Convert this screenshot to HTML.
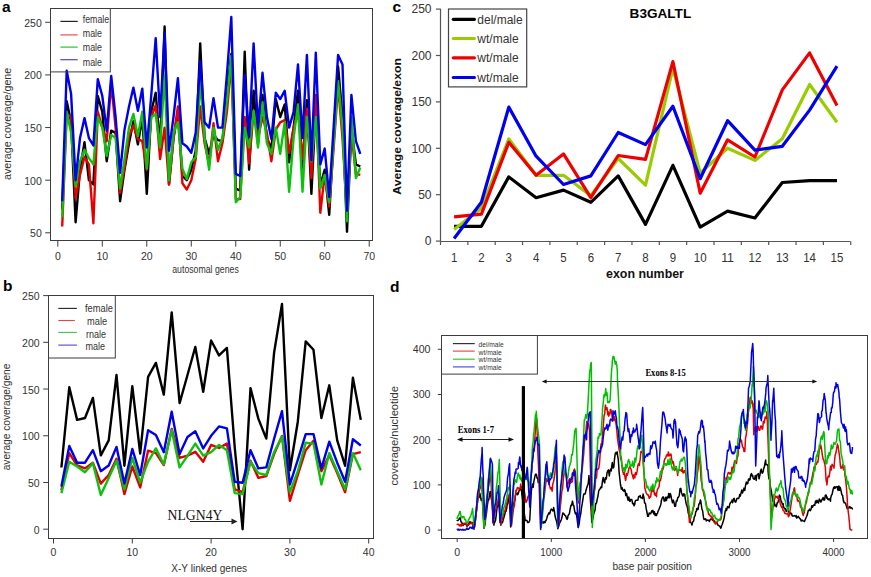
<!DOCTYPE html>
<html><head><meta charset="utf-8"><style>html,body{margin:0;padding:0;background:#fff;}svg{display:block;}</style></head>
<body>
<svg width="871" height="577" viewBox="0 0 871 577">
<rect width="871" height="577" fill="#fff"/>
<text x="1.9" y="11.7" font-family="'Liberation Sans', sans-serif" font-size="15.5" fill="#000" font-weight="bold">a</text>
<polyline points="62.2,209.6 66.7,101.2 71.1,122.3 75.6,222.3 80.0,169.7 84.5,142.3 88.9,180.2 93.4,184.4 97.8,96.0 102.3,111.8 106.7,161.2 111.2,130.7 115.6,132.8 120.1,201.2 124.5,169.7 129.0,143.3 133.4,121.2 137.9,144.4 142.3,117.0 146.8,193.9 151.2,111.8 155.7,92.8 160.1,147.5 164.6,26.5 169.0,184.4 173.5,138.1 177.9,111.8 182.4,176.0 186.8,180.2 191.3,169.7 195.7,150.7 200.2,43.4 204.6,138.1 209.1,153.9 213.5,134.9 218.0,140.2 222.4,141.2 226.9,96.0 231.3,53.9 235.8,188.6 240.2,190.7 244.7,51.8 249.1,169.7 253.6,90.7 258.0,143.3 262.5,94.9 266.9,138.1 271.4,148.6 275.8,99.1 280.2,117.0 284.7,104.4 289.1,162.3 293.6,127.6 298.0,90.7 302.5,169.7 306.9,100.2 311.4,193.9 315.8,106.5 320.3,185.4 324.7,169.7 329.2,214.9 333.6,138.1 338.1,66.5 342.5,117.0 347.0,231.7 351.4,127.6 355.9,164.4 360.3,166.5" fill="none" stroke="#000" stroke-width="2.4" stroke-linejoin="round"/>
<polyline points="62.2,226.5 66.7,113.9 71.1,117.0 75.6,198.1 80.0,174.9 84.5,157.0 88.9,164.4 93.4,223.3 97.8,111.8 102.3,127.6 106.7,141.2 111.2,83.3 115.6,127.6 120.1,192.8 124.5,167.5 129.0,136.0 133.4,125.4 137.9,139.1 142.3,141.2 146.8,169.7 151.2,117.0 155.7,105.4 160.1,159.1 164.6,127.6 169.0,184.4 173.5,138.1 177.9,106.5 182.4,183.3 186.8,189.6 191.3,180.2 195.7,159.1 200.2,106.5 204.6,143.3 209.1,164.4 213.5,123.3 218.0,161.2 222.4,143.3 226.9,111.8 231.3,62.3 235.8,199.1 240.2,199.1 244.7,117.0 249.1,163.3 253.6,111.8 258.0,138.1 262.5,117.0 266.9,132.8 271.4,161.2 275.8,129.7 280.2,122.3 284.7,120.2 289.1,152.8 293.6,127.6 298.0,111.8 302.5,159.1 306.9,108.6 311.4,178.1 315.8,94.9 320.3,212.8 324.7,174.9 329.2,206.5 333.6,148.6 338.1,85.5 342.5,138.1 347.0,210.7 351.4,132.8 355.9,173.9 360.3,174.9" fill="none" stroke="#e80000" stroke-width="2.4" stroke-linejoin="round"/>
<polyline points="62.2,217.0 66.7,111.8 71.1,132.8 75.6,186.5 80.0,161.2 84.5,149.7 88.9,158.1 93.4,164.4 97.8,117.0 102.3,127.6 106.7,156.0 111.2,134.9 115.6,138.1 120.1,188.6 124.5,159.1 129.0,127.6 133.4,113.9 137.9,136.0 142.3,111.8 146.8,168.6 151.2,117.0 155.7,113.9 160.1,147.5 164.6,74.9 169.0,180.2 173.5,132.8 177.9,122.3 182.4,168.6 186.8,179.1 191.3,162.3 195.7,157.0 200.2,80.2 204.6,138.1 209.1,169.7 213.5,127.6 218.0,149.7 222.4,138.1 226.9,101.2 231.3,56.0 235.8,202.3 240.2,197.0 244.7,127.6 249.1,147.5 253.6,110.7 258.0,147.5 262.5,102.3 266.9,143.3 271.4,153.9 275.8,127.6 280.2,153.9 284.7,122.3 289.1,191.8 293.6,138.1 298.0,104.4 302.5,191.8 306.9,117.0 311.4,161.2 315.8,117.0 320.3,188.6 324.7,174.9 329.2,202.3 333.6,143.3 338.1,81.2 342.5,127.6 347.0,221.2 351.4,117.0 355.9,178.1 360.3,167.5" fill="none" stroke="#10c010" stroke-width="2.4" stroke-linejoin="round"/>
<polyline points="62.2,201.2 66.7,70.7 71.1,93.9 75.6,180.2 80.0,138.1 84.5,118.1 88.9,138.1 93.4,145.4 97.8,79.1 102.3,96.0 106.7,130.7 111.2,76.0 115.6,117.0 120.1,172.8 124.5,129.7 129.0,106.5 133.4,87.6 137.9,110.7 142.3,88.6 146.8,147.5 151.2,96.0 155.7,38.1 160.1,117.0 164.6,32.8 169.0,150.7 173.5,117.0 177.9,78.1 182.4,143.3 186.8,146.5 191.3,152.8 195.7,132.8 200.2,61.2 204.6,122.3 209.1,127.6 213.5,98.1 218.0,127.6 222.4,127.6 226.9,74.9 231.3,17.0 235.8,173.9 240.2,176.0 244.7,74.9 249.1,137.0 253.6,43.4 258.0,127.6 262.5,72.8 266.9,117.0 271.4,139.1 275.8,92.8 280.2,99.1 284.7,90.7 289.1,127.6 293.6,111.8 298.0,64.4 302.5,138.1 306.9,54.9 311.4,160.2 315.8,52.8 320.3,164.4 324.7,148.6 329.2,197.0 333.6,127.6 338.1,54.9 342.5,64.4 347.0,210.7 351.4,94.9 355.9,141.2 360.3,153.9" fill="none" stroke="#0000e8" stroke-width="2.4" stroke-linejoin="round"/>
<rect x="50.5" y="8.5" width="322" height="232" fill="none" stroke="#3c3c3c" stroke-width="1"/>
<line x1="45.2" y1="232.8" x2="50.5" y2="232.8" stroke="#3c3c3c" stroke-width="1"/>
<text x="41.8" y="237.3" font-family="'Liberation Sans', sans-serif" font-size="10.5" fill="#333" text-anchor="end">50</text>
<line x1="45.2" y1="180.175" x2="50.5" y2="180.175" stroke="#3c3c3c" stroke-width="1"/>
<text x="41.8" y="184.675" font-family="'Liberation Sans', sans-serif" font-size="10.5" fill="#333" text-anchor="end">100</text>
<line x1="45.2" y1="127.55000000000001" x2="50.5" y2="127.55000000000001" stroke="#3c3c3c" stroke-width="1"/>
<text x="41.8" y="132.05" font-family="'Liberation Sans', sans-serif" font-size="10.5" fill="#333" text-anchor="end">150</text>
<line x1="45.2" y1="74.92500000000001" x2="50.5" y2="74.92500000000001" stroke="#3c3c3c" stroke-width="1"/>
<text x="41.8" y="79.42500000000001" font-family="'Liberation Sans', sans-serif" font-size="10.5" fill="#333" text-anchor="end">200</text>
<line x1="45.2" y1="22.30000000000001" x2="50.5" y2="22.30000000000001" stroke="#3c3c3c" stroke-width="1"/>
<text x="41.8" y="26.80000000000001" font-family="'Liberation Sans', sans-serif" font-size="10.5" fill="#333" text-anchor="end">250</text>
<line x1="57.8" y1="240.5" x2="57.8" y2="246.6" stroke="#3c3c3c" stroke-width="1"/>
<text x="57.8" y="260.1" font-family="'Liberation Sans', sans-serif" font-size="10.5" fill="#333" text-anchor="middle">0</text>
<line x1="102.28999999999999" y1="240.5" x2="102.28999999999999" y2="246.6" stroke="#3c3c3c" stroke-width="1"/>
<text x="102.28999999999999" y="260.1" font-family="'Liberation Sans', sans-serif" font-size="10.5" fill="#333" text-anchor="middle">10</text>
<line x1="146.77999999999997" y1="240.5" x2="146.77999999999997" y2="246.6" stroke="#3c3c3c" stroke-width="1"/>
<text x="146.77999999999997" y="260.1" font-family="'Liberation Sans', sans-serif" font-size="10.5" fill="#333" text-anchor="middle">20</text>
<line x1="191.26999999999998" y1="240.5" x2="191.26999999999998" y2="246.6" stroke="#3c3c3c" stroke-width="1"/>
<text x="191.26999999999998" y="260.1" font-family="'Liberation Sans', sans-serif" font-size="10.5" fill="#333" text-anchor="middle">30</text>
<line x1="235.76" y1="240.5" x2="235.76" y2="246.6" stroke="#3c3c3c" stroke-width="1"/>
<text x="235.76" y="260.1" font-family="'Liberation Sans', sans-serif" font-size="10.5" fill="#333" text-anchor="middle">40</text>
<line x1="280.25" y1="240.5" x2="280.25" y2="246.6" stroke="#3c3c3c" stroke-width="1"/>
<text x="280.25" y="260.1" font-family="'Liberation Sans', sans-serif" font-size="10.5" fill="#333" text-anchor="middle">50</text>
<line x1="324.74" y1="240.5" x2="324.74" y2="246.6" stroke="#3c3c3c" stroke-width="1"/>
<text x="324.74" y="260.1" font-family="'Liberation Sans', sans-serif" font-size="10.5" fill="#333" text-anchor="middle">60</text>
<line x1="369.23" y1="240.5" x2="369.23" y2="246.6" stroke="#3c3c3c" stroke-width="1"/>
<text x="369.23" y="260.1" font-family="'Liberation Sans', sans-serif" font-size="10.5" fill="#333" text-anchor="middle">70</text>
<text x="205.5" y="273.4" font-family="'Liberation Sans', sans-serif" font-size="10.2" fill="#333" text-anchor="middle" textLength="66.5" lengthAdjust="spacingAndGlyphs">autosomal genes</text>
<text x="10.9" y="123.9" font-family="'Liberation Sans', sans-serif" font-size="10.6" fill="#333" text-anchor="middle" textLength="112.3" lengthAdjust="spacingAndGlyphs" transform="rotate(-90 10.9 123.9)">average coverage/gene</text>
<rect x="50.5" y="8.5" width="59.8" height="63.4" fill="none" stroke="#3c3c3c" stroke-width="1"/>
<line x1="60.4" y1="21.4" x2="77.7" y2="21.4" stroke="#222" stroke-width="1.2"/>
<line x1="60.4" y1="34.9" x2="77.7" y2="34.9" stroke="#e85050" stroke-width="1.2"/>
<line x1="60.4" y1="47.1" x2="77.7" y2="47.1" stroke="#30c030" stroke-width="1.2"/>
<line x1="60.4" y1="59.7" x2="77.7" y2="59.7" stroke="#4848d8" stroke-width="1.2"/>
<text x="82.8" y="23.1" font-family="'Liberation Sans', sans-serif" font-size="10.4" fill="#333" textLength="26.3" lengthAdjust="spacingAndGlyphs">female</text>
<text x="82.8" y="37.0" font-family="'Liberation Sans', sans-serif" font-size="10.4" fill="#333" textLength="19.2" lengthAdjust="spacingAndGlyphs">male</text>
<text x="82.8" y="51.2" font-family="'Liberation Sans', sans-serif" font-size="10.4" fill="#333" textLength="19.2" lengthAdjust="spacingAndGlyphs">male</text>
<text x="82.8" y="65.5" font-family="'Liberation Sans', sans-serif" font-size="10.4" fill="#333" textLength="19.2" lengthAdjust="spacingAndGlyphs">male</text>
<text x="3.0" y="290.9" font-family="'Liberation Sans', sans-serif" font-size="15.5" fill="#000" font-weight="bold">b</text>
<polyline points="61.4,467.5 69.3,387.2 77.1,419.9 85.0,418.0 92.9,397.9 100.8,455.4 108.7,440.4 116.5,375.0 124.4,465.7 132.3,386.2 140.2,453.5 148.1,376.9 155.9,362.9 163.8,394.6 171.7,312.4 179.6,403.1 187.5,375.0 195.3,347.0 203.2,391.8 211.1,340.5 219.0,355.4 226.9,347.9 234.7,447.0 242.6,529.2 250.5,388.1 258.4,418.9 266.3,438.6 274.1,352.6 282.0,304.0 289.9,470.3 297.8,421.7 305.7,341.4 313.5,349.8 321.4,418.0 329.3,385.3 337.2,440.4 345.1,465.7 352.9,377.8 360.8,419.9" fill="none" stroke="#000" stroke-width="2.4" stroke-linejoin="round"/>
<polyline points="61.4,490.2 69.3,453.1 77.1,465.5 85.0,468.4 92.9,462.7 100.8,483.6 108.7,475.0 116.5,458.8 124.4,494.1 132.3,466.5 140.2,487.4 148.1,450.6 155.9,453.1 163.8,465.1 171.7,428.9 179.6,457.9 187.5,455.6 195.3,451.8 203.2,461.7 211.1,444.9 219.0,448.0 226.9,443.6 234.7,489.3 242.6,492.2 250.5,460.7 258.4,477.9 266.3,476.0 274.1,454.1 282.0,435.9 289.9,500.8 297.8,475.0 305.7,450.2 313.5,440.7 321.4,471.2 329.3,455.0 337.2,473.1 345.1,492.2 352.9,454.1 360.8,452.2" fill="none" stroke="#e00000" stroke-width="2.4" stroke-linejoin="round"/>
<polyline points="61.4,493.1 69.3,461.7 77.1,466.5 85.0,472.2 92.9,463.2 100.8,495.0 108.7,477.9 116.5,460.7 124.4,489.3 132.3,457.9 140.2,482.7 148.1,461.7 155.9,448.4 163.8,464.5 171.7,430.2 179.6,467.4 187.5,455.9 195.3,443.6 203.2,455.6 211.1,452.2 219.0,444.9 226.9,450.2 234.7,493.1 242.6,494.1 250.5,461.7 258.4,473.1 266.3,475.0 274.1,452.2 282.0,436.5 289.9,492.2 297.8,471.2 305.7,442.7 313.5,443.6 321.4,484.5 329.3,453.1 337.2,471.2 345.1,489.3 352.9,453.1 360.8,470.2" fill="none" stroke="#10c010" stroke-width="2.4" stroke-linejoin="round"/>
<polyline points="61.4,486.5 69.3,446.0 77.1,462.7 85.0,462.7 92.9,450.2 100.8,471.2 108.7,465.5 116.5,446.9 124.4,483.6 132.3,448.9 140.2,475.0 148.1,430.2 155.9,435.0 163.8,452.2 171.7,411.7 179.6,454.1 187.5,437.0 195.3,431.2 203.2,448.4 211.1,435.8 219.0,426.4 226.9,428.3 234.7,481.7 242.6,482.7 250.5,450.2 258.4,468.4 266.3,467.4 274.1,438.8 282.0,411.2 289.9,484.5 297.8,459.8 305.7,434.1 313.5,434.1 321.4,468.4 329.3,441.7 337.2,462.7 345.1,481.7 352.9,439.2 360.8,445.5" fill="none" stroke="#0000e8" stroke-width="2.4" stroke-linejoin="round"/>
<rect x="48.5" y="295.5" width="325" height="243" fill="none" stroke="#3c3c3c" stroke-width="1"/>
<line x1="43.2" y1="529.2" x2="48.5" y2="529.2" stroke="#3c3c3c" stroke-width="1"/>
<text x="39.6" y="533.7" font-family="'Liberation Sans', sans-serif" font-size="10.5" fill="#333" text-anchor="end">0</text>
<line x1="43.2" y1="482.48" x2="48.5" y2="482.48" stroke="#3c3c3c" stroke-width="1"/>
<text x="39.6" y="486.98" font-family="'Liberation Sans', sans-serif" font-size="10.5" fill="#333" text-anchor="end">50</text>
<line x1="43.2" y1="435.76000000000005" x2="48.5" y2="435.76000000000005" stroke="#3c3c3c" stroke-width="1"/>
<text x="39.6" y="440.26000000000005" font-family="'Liberation Sans', sans-serif" font-size="10.5" fill="#333" text-anchor="end">100</text>
<line x1="43.2" y1="389.0400000000001" x2="48.5" y2="389.0400000000001" stroke="#3c3c3c" stroke-width="1"/>
<text x="39.6" y="393.5400000000001" font-family="'Liberation Sans', sans-serif" font-size="10.5" fill="#333" text-anchor="end">150</text>
<line x1="43.2" y1="342.32000000000005" x2="48.5" y2="342.32000000000005" stroke="#3c3c3c" stroke-width="1"/>
<text x="39.6" y="346.82000000000005" font-family="'Liberation Sans', sans-serif" font-size="10.5" fill="#333" text-anchor="end">200</text>
<line x1="43.2" y1="295.6" x2="48.5" y2="295.6" stroke="#3c3c3c" stroke-width="1"/>
<text x="39.6" y="300.1" font-family="'Liberation Sans', sans-serif" font-size="10.5" fill="#333" text-anchor="end">250</text>
<line x1="53.5" y1="538.5" x2="53.5" y2="543.5" stroke="#3c3c3c" stroke-width="1"/>
<text x="53.5" y="555.5" font-family="'Liberation Sans', sans-serif" font-size="10.5" fill="#333" text-anchor="middle">0</text>
<line x1="132.3" y1="538.5" x2="132.3" y2="543.5" stroke="#3c3c3c" stroke-width="1"/>
<text x="132.3" y="555.5" font-family="'Liberation Sans', sans-serif" font-size="10.5" fill="#333" text-anchor="middle">10</text>
<line x1="211.1" y1="538.5" x2="211.1" y2="543.5" stroke="#3c3c3c" stroke-width="1"/>
<text x="211.1" y="555.5" font-family="'Liberation Sans', sans-serif" font-size="10.5" fill="#333" text-anchor="middle">20</text>
<line x1="289.9" y1="538.5" x2="289.9" y2="543.5" stroke="#3c3c3c" stroke-width="1"/>
<text x="289.9" y="555.5" font-family="'Liberation Sans', sans-serif" font-size="10.5" fill="#333" text-anchor="middle">30</text>
<line x1="368.7" y1="538.5" x2="368.7" y2="543.5" stroke="#3c3c3c" stroke-width="1"/>
<text x="368.7" y="555.5" font-family="'Liberation Sans', sans-serif" font-size="10.5" fill="#333" text-anchor="middle">40</text>
<text x="209.2" y="572.4" font-family="'Liberation Sans', sans-serif" font-size="10.0" fill="#333" text-anchor="middle" textLength="75.8" lengthAdjust="spacingAndGlyphs">X-Y linked genes</text>
<text x="10.2" y="417.0" font-family="'Liberation Sans', sans-serif" font-size="10.2" fill="#333" text-anchor="middle" textLength="106.7" lengthAdjust="spacingAndGlyphs" transform="rotate(-90 10.2 417.0)">average coverage/gene</text>
<rect x="48.5" y="295.5" width="66.8" height="62.5" fill="#fff" stroke="#3c3c3c" stroke-width="1"/>
<line x1="58.3" y1="308.4" x2="76.9" y2="308.4" stroke="#222" stroke-width="1.1"/>
<line x1="58.3" y1="320.5" x2="74.9" y2="320.5" stroke="#e04848" stroke-width="1.1"/>
<line x1="58.3" y1="332.4" x2="76.9" y2="332.4" stroke="#40c040" stroke-width="1.1"/>
<line x1="58.3" y1="345.1" x2="76.9" y2="345.1" stroke="#4848e0" stroke-width="1.1"/>
<text x="85.0" y="311.7" font-family="'Liberation Sans', sans-serif" font-size="10.4" fill="#333" textLength="27.9" lengthAdjust="spacingAndGlyphs">female</text>
<text x="87.1" y="324.5" font-family="'Liberation Sans', sans-serif" font-size="10.4" fill="#333" textLength="20.0" lengthAdjust="spacingAndGlyphs">male</text>
<text x="85.9" y="337.9" font-family="'Liberation Sans', sans-serif" font-size="10.4" fill="#333" textLength="20.1" lengthAdjust="spacingAndGlyphs">rnale</text>
<text x="85.4" y="349.6" font-family="'Liberation Sans', sans-serif" font-size="10.4" fill="#333" textLength="19.6" lengthAdjust="spacingAndGlyphs">male</text>
<text x="167.6" y="519.9" font-family="'Liberation Serif', serif" font-size="13.7" fill="#111" textLength="54.8" lengthAdjust="spacingAndGlyphs">NLGN4Y</text>
<line x1="190" y1="521.5" x2="232" y2="521.5" stroke="#222" stroke-width="1.1"/>
<polygon points="237.5,521.5 231.5,518.6 231.5,524.4" fill="#222"/>
<text x="392.6" y="11.5" font-family="'Liberation Sans', sans-serif" font-size="15.5" fill="#000" font-weight="bold">c</text>
<text x="629.6" y="17.6" font-family="'Liberation Sans', sans-serif" font-size="12.6" fill="#000" font-weight="bold" textLength="61.6" lengthAdjust="spacingAndGlyphs">B3GALTL</text>
<line x1="440.5" y1="8.8" x2="440.5" y2="241.5" stroke="#555" stroke-width="1.2"/>
<line x1="440.5" y1="241.5" x2="850.5" y2="241.5" stroke="#555" stroke-width="1.2"/>
<line x1="435.9" y1="241.1" x2="440.5" y2="241.1" stroke="#555" stroke-width="1.2"/>
<text x="431.6" y="245.29999999999998" font-family="'Liberation Sans', sans-serif" font-size="12.8" fill="#333" text-anchor="end" textLength="6.73" lengthAdjust="spacingAndGlyphs">0</text>
<line x1="435.9" y1="194.7" x2="440.5" y2="194.7" stroke="#555" stroke-width="1.2"/>
<text x="431.6" y="198.89999999999998" font-family="'Liberation Sans', sans-serif" font-size="12.8" fill="#333" text-anchor="end" textLength="13.46" lengthAdjust="spacingAndGlyphs">50</text>
<line x1="435.9" y1="148.29999999999998" x2="440.5" y2="148.29999999999998" stroke="#555" stroke-width="1.2"/>
<text x="431.6" y="152.49999999999997" font-family="'Liberation Sans', sans-serif" font-size="12.8" fill="#333" text-anchor="end" textLength="20.18" lengthAdjust="spacingAndGlyphs">100</text>
<line x1="435.9" y1="101.89999999999998" x2="440.5" y2="101.89999999999998" stroke="#555" stroke-width="1.2"/>
<text x="431.6" y="106.09999999999998" font-family="'Liberation Sans', sans-serif" font-size="12.8" fill="#333" text-anchor="end" textLength="20.18" lengthAdjust="spacingAndGlyphs">150</text>
<line x1="435.9" y1="55.49999999999997" x2="440.5" y2="55.49999999999997" stroke="#555" stroke-width="1.2"/>
<text x="431.6" y="59.699999999999974" font-family="'Liberation Sans', sans-serif" font-size="12.8" fill="#333" text-anchor="end" textLength="20.18" lengthAdjust="spacingAndGlyphs">200</text>
<line x1="435.9" y1="9.099999999999994" x2="440.5" y2="9.099999999999994" stroke="#555" stroke-width="1.2"/>
<text x="431.6" y="13.299999999999994" font-family="'Liberation Sans', sans-serif" font-size="12.8" fill="#333" text-anchor="end" textLength="20.18" lengthAdjust="spacingAndGlyphs">250</text>
<line x1="440.5" y1="241.5" x2="440.5" y2="245.0" stroke="#555" stroke-width="1.2"/>
<line x1="467.85" y1="241.5" x2="467.85" y2="245.0" stroke="#555" stroke-width="1.2"/>
<line x1="495.2" y1="241.5" x2="495.2" y2="245.0" stroke="#555" stroke-width="1.2"/>
<line x1="522.55" y1="241.5" x2="522.55" y2="245.0" stroke="#555" stroke-width="1.2"/>
<line x1="549.9" y1="241.5" x2="549.9" y2="245.0" stroke="#555" stroke-width="1.2"/>
<line x1="577.25" y1="241.5" x2="577.25" y2="245.0" stroke="#555" stroke-width="1.2"/>
<line x1="604.6" y1="241.5" x2="604.6" y2="245.0" stroke="#555" stroke-width="1.2"/>
<line x1="631.95" y1="241.5" x2="631.95" y2="245.0" stroke="#555" stroke-width="1.2"/>
<line x1="659.3" y1="241.5" x2="659.3" y2="245.0" stroke="#555" stroke-width="1.2"/>
<line x1="686.65" y1="241.5" x2="686.65" y2="245.0" stroke="#555" stroke-width="1.2"/>
<line x1="714.0" y1="241.5" x2="714.0" y2="245.0" stroke="#555" stroke-width="1.2"/>
<line x1="741.35" y1="241.5" x2="741.35" y2="245.0" stroke="#555" stroke-width="1.2"/>
<line x1="768.7" y1="241.5" x2="768.7" y2="245.0" stroke="#555" stroke-width="1.2"/>
<line x1="796.05" y1="241.5" x2="796.05" y2="245.0" stroke="#555" stroke-width="1.2"/>
<line x1="823.4000000000001" y1="241.5" x2="823.4000000000001" y2="245.0" stroke="#555" stroke-width="1.2"/>
<line x1="850.75" y1="241.5" x2="850.75" y2="245.0" stroke="#555" stroke-width="1.2"/>
<text x="454.075" y="262.2" font-family="'Liberation Sans', sans-serif" font-size="12.8" fill="#333" text-anchor="middle" textLength="6.39" lengthAdjust="spacingAndGlyphs">1</text>
<text x="481.42499999999995" y="262.2" font-family="'Liberation Sans', sans-serif" font-size="12.8" fill="#333" text-anchor="middle" textLength="6.39" lengthAdjust="spacingAndGlyphs">2</text>
<text x="508.775" y="262.2" font-family="'Liberation Sans', sans-serif" font-size="12.8" fill="#333" text-anchor="middle" textLength="6.39" lengthAdjust="spacingAndGlyphs">3</text>
<text x="536.125" y="262.2" font-family="'Liberation Sans', sans-serif" font-size="12.8" fill="#333" text-anchor="middle" textLength="6.39" lengthAdjust="spacingAndGlyphs">4</text>
<text x="563.475" y="262.2" font-family="'Liberation Sans', sans-serif" font-size="12.8" fill="#333" text-anchor="middle" textLength="6.39" lengthAdjust="spacingAndGlyphs">5</text>
<text x="590.825" y="262.2" font-family="'Liberation Sans', sans-serif" font-size="12.8" fill="#333" text-anchor="middle" textLength="6.39" lengthAdjust="spacingAndGlyphs">6</text>
<text x="618.175" y="262.2" font-family="'Liberation Sans', sans-serif" font-size="12.8" fill="#333" text-anchor="middle" textLength="6.39" lengthAdjust="spacingAndGlyphs">7</text>
<text x="645.525" y="262.2" font-family="'Liberation Sans', sans-serif" font-size="12.8" fill="#333" text-anchor="middle" textLength="6.39" lengthAdjust="spacingAndGlyphs">8</text>
<text x="672.875" y="262.2" font-family="'Liberation Sans', sans-serif" font-size="12.8" fill="#333" text-anchor="middle" textLength="6.39" lengthAdjust="spacingAndGlyphs">9</text>
<text x="700.2249999999999" y="262.2" font-family="'Liberation Sans', sans-serif" font-size="12.8" fill="#333" text-anchor="middle" textLength="12.79" lengthAdjust="spacingAndGlyphs">10</text>
<text x="727.575" y="262.2" font-family="'Liberation Sans', sans-serif" font-size="12.8" fill="#333" text-anchor="middle" textLength="12.79" lengthAdjust="spacingAndGlyphs">11</text>
<text x="754.925" y="262.2" font-family="'Liberation Sans', sans-serif" font-size="12.8" fill="#333" text-anchor="middle" textLength="12.79" lengthAdjust="spacingAndGlyphs">12</text>
<text x="782.275" y="262.2" font-family="'Liberation Sans', sans-serif" font-size="12.8" fill="#333" text-anchor="middle" textLength="12.79" lengthAdjust="spacingAndGlyphs">13</text>
<text x="809.625" y="262.2" font-family="'Liberation Sans', sans-serif" font-size="12.8" fill="#333" text-anchor="middle" textLength="12.79" lengthAdjust="spacingAndGlyphs">14</text>
<text x="836.975" y="262.2" font-family="'Liberation Sans', sans-serif" font-size="12.8" fill="#333" text-anchor="middle" textLength="12.79" lengthAdjust="spacingAndGlyphs">15</text>
<text x="645.0" y="278.4" font-family="'Liberation Sans', sans-serif" font-size="13.0" fill="#111" text-anchor="middle" font-weight="bold" textLength="77.9" lengthAdjust="spacingAndGlyphs">exon number</text>
<text x="401.4" y="126.4" font-family="'Liberation Sans', sans-serif" font-size="11.1" fill="#111" text-anchor="middle" font-weight="bold" textLength="136.5" lengthAdjust="spacingAndGlyphs" transform="rotate(-90 401.4 126.4)">Average coverage/exon</text>
<polyline points="454.1,226.3 481.4,226.3 508.8,176.9 536.1,197.7 563.5,190.1 590.8,202.3 618.2,175.9 645.5,224.4 672.9,165.3 700.2,227.1 727.6,211.1 754.9,218.0 782.3,182.5 809.6,180.6 837.0,180.6" fill="none" stroke="#000" stroke-width="3.2" stroke-linejoin="round"/>
<polyline points="454.1,229.6 481.4,208.2 508.8,139.0 536.1,175.3 563.5,175.3 590.8,195.7 618.2,158.5 645.5,185.2 672.9,68.1 700.2,173.0 727.6,148.2 754.9,160.4 782.3,138.7 809.6,84.5 837.0,122.3" fill="none" stroke="#99cc00" stroke-width="3.2" stroke-linejoin="round"/>
<polyline points="454.1,216.8 481.4,214.1 508.8,142.3 536.1,175.3 563.5,153.9 590.8,197.7 618.2,155.5 645.5,159.4 672.9,61.6 700.2,193.2 727.6,139.8 754.9,157.0 782.3,89.9 809.6,52.9 837.0,105.5" fill="none" stroke="#ee0000" stroke-width="3.2" stroke-linejoin="round"/>
<polyline points="454.1,238.5 481.4,202.3 508.8,107.1 536.1,156.2 563.5,184.5 590.8,175.9 618.2,132.5 645.5,144.6 672.9,106.2 700.2,178.7 727.6,120.7 754.9,150.1 782.3,146.3 809.6,110.1 837.0,66.2" fill="none" stroke="#0000ee" stroke-width="3.2" stroke-linejoin="round"/>
<rect x="448.5" y="9.0" width="78.2" height="77.9" fill="#fff" stroke="#444" stroke-width="1.2"/>
<line x1="453.3" y1="19.3" x2="474.4" y2="19.3" stroke="#000" stroke-width="3.2" stroke-linecap="round"/>
<text x="477.3" y="23.5" font-family="'Liberation Sans', sans-serif" font-size="12" fill="#333">del/male</text>
<line x1="453.3" y1="38.5" x2="474.4" y2="38.5" stroke="#99cc00" stroke-width="3.2" stroke-linecap="round"/>
<text x="477.3" y="42.7" font-family="'Liberation Sans', sans-serif" font-size="12" fill="#333">wt/male</text>
<line x1="453.3" y1="57.8" x2="474.4" y2="57.8" stroke="#ee0000" stroke-width="3.2" stroke-linecap="round"/>
<text x="477.3" y="62.0" font-family="'Liberation Sans', sans-serif" font-size="12" fill="#333">wt/male</text>
<line x1="453.3" y1="77.5" x2="474.4" y2="77.5" stroke="#0000ee" stroke-width="3.2" stroke-linecap="round"/>
<text x="477.3" y="81.7" font-family="'Liberation Sans', sans-serif" font-size="12" fill="#333">wt/male</text>
<text x="390.1" y="291.9" font-family="'Liberation Sans', sans-serif" font-size="15.5" fill="#000" font-weight="bold">d</text>
<polyline points="457.2,520.9 457.2,520.6 458.0,520.6 458.7,519.6 459.5,518.1 459.6,518.3 460.2,517.9 461.0,521.8 461.7,522.2 462.5,524.9 462.7,523.8 463.2,525.5 464.0,523.8 464.7,524.1 465.5,523.4 466.2,524.8 466.6,525.1 467.0,526.3 467.7,525.3 468.5,524.2 469.2,522.5 469.4,523.8 470.0,521.6 470.8,522.6 471.5,522.9 472.3,523.7 472.3,522.4 473.0,525.1 473.8,528.6 474.1,529.2 474.5,527.1 475.3,521.5 476.0,515.6 476.8,506.2 477.5,501.7 477.9,496.2 478.3,493.8 479.0,497.4 479.8,493.3 480.2,494.8 480.5,497.4 481.3,500.5 482.0,498.3 482.4,499.4 482.8,507.4 483.5,519.2 484.0,528.3 484.3,527.3 485.1,523.8 485.8,517.1 486.3,514.7 486.6,511.8 487.3,505.6 488.1,500.6 488.5,499.4 488.8,499.8 489.6,494.2 490.1,491.7 490.3,491.5 491.1,497.9 491.8,500.8 492.4,507.0 492.6,509.8 493.3,516.8 493.9,525.1 494.1,523.3 494.8,522.3 495.6,519.9 496.3,514.7 496.3,514.2 497.1,507.5 497.9,505.6 498.5,499.4 498.6,502.1 499.4,508.4 500.1,518.7 500.8,525.1 500.9,524.1 501.6,522.9 502.4,522.7 503.1,520.4 503.8,517.9 503.9,517.6 504.6,515.2 505.4,511.6 506.1,511.1 506.9,507.0 506.9,506.0 507.6,503.8 508.4,499.1 509.1,496.2 509.1,495.2 509.9,510.8 510.6,525.5 510.7,526.9 511.4,520.3 512.2,512.4 512.9,505.8 513.0,507.0 513.7,502.8 514.4,501.1 515.2,499.6 515.3,496.2 515.9,493.8 516.7,493.5 517.4,493.0 517.5,494.8 518.2,493.8 518.9,491.4 519.7,488.5 519.8,490.3 520.4,487.2 521.2,487.4 521.4,489.0 521.9,494.5 522.7,500.7 523.4,504.6 524.2,512.8 525.0,518.4 525.1,520.6 525.7,520.5 526.5,520.2 527.2,520.8 527.5,522.4 528.0,522.0 528.7,522.5 529.5,521.0 529.8,519.3 530.2,511.5 531.0,496.7 531.3,491.7 531.7,487.9 532.5,484.1 533.2,487.3 533.5,484.0 534.0,480.8 534.7,477.4 535.5,474.3 536.2,474.2 536.6,475.0 537.0,478.1 537.7,478.0 538.2,482.6 538.5,479.5 539.3,479.5 539.4,481.3 540.0,490.4 540.8,510.1 541.3,522.4 541.5,523.7 542.3,522.6 543.0,521.5 543.8,523.1 544.5,521.8 545.3,522.4 545.3,520.9 546.0,520.8 546.8,518.2 547.5,515.7 548.3,514.3 548.9,512.9 549.0,514.0 549.8,513.5 550.5,510.6 551.3,509.1 552.1,509.6 552.8,511.0 553.6,508.4 553.6,507.5 554.3,510.6 555.1,516.3 555.8,519.1 556.6,521.6 557.3,525.1 557.8,528.7 558.1,527.4 558.8,525.5 559.6,523.0 560.3,521.9 561.1,520.1 561.8,518.1 562.6,513.8 563.0,512.9 563.3,513.8 564.1,514.0 564.9,515.3 565.6,515.7 566.4,517.9 567.1,519.4 567.7,517.9 567.9,516.0 568.6,514.7 569.4,513.7 570.1,509.3 570.9,505.3 571.6,505.5 572.4,501.4 572.5,501.2 573.1,504.2 573.9,506.1 574.6,510.8 575.4,513.8 576.0,512.9 576.1,512.8 576.9,517.1 577.6,523.0 578.3,527.4 578.4,526.6 579.2,523.3 579.9,517.7 580.7,514.3 581.4,508.1 582.2,503.9 582.9,499.3 583.7,494.0 584.2,494.4 584.4,494.1 585.2,493.9 585.9,490.7 586.7,487.9 587.4,485.8 588.2,483.5 588.9,476.5 588.9,475.4 589.7,485.6 590.4,500.2 591.2,511.0 591.8,522.4 592.0,519.8 592.7,519.3 593.5,514.9 594.2,512.1 595.0,510.4 595.7,503.4 596.0,503.9 596.5,503.0 597.2,499.4 598.0,496.0 598.7,491.0 599.5,489.4 600.2,488.9 600.7,487.2 601.0,487.0 601.7,487.7 602.5,480.8 603.2,477.4 604.0,481.3 604.7,483.0 605.4,477.7 605.5,479.5 606.3,478.9 607.0,473.1 607.8,470.7 608.5,469.9 609.3,475.9 610.0,470.7 610.8,469.1 611.3,470.9 611.5,468.2 612.3,462.6 613.0,468.1 613.8,467.3 614.5,459.2 615.3,453.3 616.0,452.4 616.8,454.2 617.2,451.9 617.5,454.8 618.3,459.6 619.1,472.1 619.8,478.5 620.6,485.6 620.7,484.9 621.3,489.1 622.1,487.7 622.8,490.2 623.6,491.1 624.3,491.2 624.3,489.4 625.1,490.7 625.8,495.6 626.6,493.5 627.3,497.2 628.1,500.3 628.8,497.0 629.6,501.2 630.2,501.2 630.3,499.4 631.1,499.4 631.8,499.4 632.6,503.7 633.4,503.6 634.1,505.7 634.9,503.9 634.9,502.3 635.6,500.4 636.4,500.2 637.1,500.3 637.9,500.2 638.6,496.6 639.4,496.7 639.7,496.7 640.1,495.4 640.9,497.8 641.6,497.7 642.4,498.4 643.1,494.4 643.1,494.1 643.9,497.4 644.6,503.1 645.4,503.2 646.2,508.7 646.9,512.0 647.7,516.3 647.8,515.6 648.4,516.3 649.2,513.0 649.9,513.4 650.7,513.7 651.4,511.7 651.8,510.7 652.2,512.0 652.9,510.4 653.7,513.9 654.4,511.8 655.2,515.6 655.9,513.8 656.5,515.6 656.7,514.0 657.4,513.6 658.2,510.8 659.0,509.3 659.7,507.4 660.5,505.6 661.2,502.6 661.2,501.2 662.0,498.5 662.7,497.1 663.5,497.1 664.2,501.0 665.0,501.0 665.7,497.2 665.9,498.9 666.5,500.4 667.2,496.9 668.0,498.0 668.7,493.6 669.5,497.7 670.2,493.5 670.6,494.4 671.0,496.0 671.7,499.6 672.5,502.7 673.3,500.1 674.0,502.5 674.8,506.3 675.3,506.1 675.5,506.3 676.3,500.9 677.0,501.2 677.8,497.5 678.5,497.2 679.3,495.2 680.0,488.8 680.1,489.4 680.8,488.4 681.5,492.5 682.3,495.0 683.0,496.2 683.8,493.8 684.5,494.3 684.7,494.4 685.3,498.8 686.1,503.4 686.8,505.4 687.6,508.4 688.3,513.4 688.3,511.8 689.1,515.1 689.8,519.2 690.6,522.5 691.3,523.0 691.9,525.1 692.1,524.7 692.8,521.6 693.6,521.2 694.3,516.9 695.1,515.7 695.8,511.7 696.6,510.7 696.6,508.9 697.3,508.4 698.1,509.5 698.8,504.2 699.6,503.6 700.4,500.1 700.8,501.2 701.1,503.5 701.9,509.0 702.6,510.8 703.4,516.5 703.6,517.9 704.1,519.4 704.9,519.3 705.6,518.8 706.4,520.9 707.1,520.0 707.9,520.2 708.4,520.2 708.6,520.2 709.4,521.5 710.1,519.8 710.9,519.0 711.6,518.5 712.4,520.3 713.1,520.2 713.2,519.6 713.9,521.2 714.7,521.1 715.4,523.8 716.2,522.6 716.9,522.7 717.7,524.6 717.8,525.1 718.4,525.4 719.2,525.9 719.9,526.4 720.7,528.2 721.3,527.4 721.4,526.1 722.2,524.5 722.9,522.2 723.7,519.8 724.4,516.5 725.2,511.0 725.9,510.7 726.0,508.4 726.7,510.2 727.5,506.5 728.2,507.2 729.0,507.8 729.7,504.3 730.5,502.7 731.2,501.9 732.0,501.2 732.0,500.0 732.7,502.7 733.5,498.9 734.2,498.4 735.0,501.8 735.7,502.2 736.5,499.9 736.7,498.9 737.2,498.3 738.0,498.4 738.7,498.6 739.5,496.1 739.7,494.4 740.3,496.2 741.0,493.2 741.8,489.9 742.5,493.1 743.3,490.6 744.0,488.1 744.4,489.4 744.8,490.5 745.5,485.5 746.3,482.1 747.0,484.0 747.8,483.4 748.5,479.0 749.1,480.4 749.3,479.1 750.0,479.6 750.8,474.6 751.5,473.6 752.3,476.3 752.7,475.4 753.1,478.2 753.8,479.1 754.6,479.2 755.3,475.6 756.1,476.8 756.2,480.4 756.8,475.1 757.6,474.5 758.3,473.6 759.1,478.8 759.7,475.4 759.8,475.9 760.6,470.6 761.3,469.1 762.1,473.2 762.8,472.4 763.3,470.9 763.6,468.7 764.3,467.1 765.1,462.7 765.7,460.0 765.8,464.8 766.6,464.3 767.4,464.8 768.0,465.9 768.1,471.5 768.9,478.8 769.6,479.4 770.4,489.4 770.4,486.8 771.1,489.6 771.9,495.1 772.6,498.5 772.7,501.2 773.4,499.4 774.1,500.3 774.9,505.9 775.6,505.1 776.2,506.1 776.4,506.8 777.1,503.0 777.9,502.7 778.6,499.7 779.4,495.1 779.8,496.7 780.2,496.2 780.9,500.7 781.7,502.0 782.4,504.2 783.2,503.7 783.3,506.1 783.9,507.4 784.7,509.0 785.4,508.5 786.2,511.5 786.8,510.7 786.9,510.8 787.7,509.1 788.4,510.9 789.2,512.8 789.9,512.8 790.7,512.9 791.4,514.8 791.5,513.4 792.2,515.7 792.9,516.2 793.7,515.9 794.5,515.6 795.2,516.2 796.0,516.8 796.2,515.6 796.7,518.1 797.5,517.2 798.2,516.4 799.0,517.5 799.7,518.5 800.5,519.0 800.9,520.2 801.2,521.1 802.0,520.1 802.7,520.8 803.5,521.0 804.2,521.0 804.5,521.5 805.0,520.1 805.7,518.5 806.5,516.8 807.3,514.8 808.0,511.4 808.1,510.7 808.8,510.7 809.5,509.1 810.3,510.8 811.0,509.3 811.8,505.8 812.5,507.3 812.8,506.1 813.3,505.6 814.0,504.9 814.8,505.2 815.5,501.0 816.3,502.9 817.0,500.3 817.5,501.2 817.8,502.5 818.5,503.0 819.3,499.1 820.0,499.9 820.8,502.1 821.6,500.6 822.2,498.9 822.3,499.6 823.1,497.4 823.8,500.1 824.6,500.0 825.3,495.3 826.1,495.0 826.8,498.2 826.9,496.7 827.6,498.9 828.3,499.7 829.1,498.8 829.8,499.5 830.5,501.2 830.6,498.6 831.3,495.5 832.1,494.4 832.8,490.8 833.6,487.6 834.0,488.5 834.4,486.7 835.1,488.2 835.9,486.8 836.6,487.1 837.4,486.7 837.6,489.4 838.1,490.4 838.9,486.0 839.6,490.3 839.9,487.2 840.4,488.0 841.1,491.2 841.9,494.9 842.6,495.3 843.4,501.2 843.4,500.0 844.1,502.8 844.9,502.8 845.6,503.4 846.4,506.1 847.0,508.4 847.2,508.6 847.9,508.3 848.7,508.0 849.4,506.5 850.2,507.9 850.4,507.0 850.9,508.1 851.7,507.8 852.4,508.9 852.4,508.4" fill="none" stroke="#000" stroke-width="1.5" stroke-linejoin="round"/>
<polyline points="457.2,525.1 457.2,524.7 458.0,524.1 458.7,524.8 459.5,525.8 460.2,524.5 461.0,526.2 461.7,524.5 461.9,525.1 462.5,525.5 463.2,524.5 464.0,523.0 464.7,523.6 465.5,523.4 466.2,524.2 466.6,523.8 467.0,525.4 467.7,525.6 468.5,525.3 469.2,523.7 470.0,523.7 470.8,523.5 471.5,522.2 472.3,524.1 472.3,523.3 473.0,526.1 473.8,526.8 474.1,527.8 474.5,526.2 475.3,521.3 476.0,514.6 476.8,509.7 477.5,503.0 477.9,498.5 478.3,498.9 479.0,493.2 479.8,488.9 480.5,487.8 481.3,481.9 482.0,478.7 482.1,478.1 482.8,497.8 483.5,514.1 484.0,527.8 484.3,525.8 485.1,520.0 485.8,514.1 486.6,505.1 487.3,496.1 488.1,488.9 488.8,484.6 489.6,479.9 490.3,476.3 490.4,470.4 491.1,483.4 491.8,497.5 492.6,513.0 493.1,523.3 493.3,522.1 494.1,518.8 494.8,513.3 495.6,509.8 496.3,508.4 497.1,502.1 497.9,502.3 498.6,497.1 499.3,493.5 499.4,496.1 500.1,511.6 500.8,523.3 500.9,524.7 501.6,520.1 502.4,519.6 503.1,515.7 503.9,511.1 504.6,511.4 505.4,509.6 506.1,505.2 506.9,502.7 507.6,499.3 508.4,495.5 509.1,496.4 509.6,493.5 509.9,499.8 510.6,512.4 511.4,525.6 511.5,525.6 512.2,519.9 512.9,513.6 513.7,507.8 514.4,505.8 515.2,496.7 515.9,490.3 516.0,491.7 516.7,490.2 517.4,487.5 518.2,487.9 518.9,488.7 519.7,489.1 520.4,487.4 520.6,484.0 521.2,489.0 521.9,488.2 522.7,485.6 523.1,487.2 523.4,487.5 524.2,490.4 525.0,495.0 525.7,501.8 526.0,502.5 526.5,501.4 527.2,500.1 528.0,496.4 528.7,495.7 529.5,495.9 529.8,493.9 530.2,487.7 531.0,475.3 531.7,471.4 532.5,457.8 533.2,456.0 533.5,448.7 534.0,447.8 534.7,440.7 535.5,428.4 536.2,417.7 536.6,418.9 537.0,425.1 537.7,449.8 538.5,466.2 539.3,490.2 540.0,511.2 540.6,525.1 540.8,522.7 541.5,517.2 542.3,511.2 543.0,505.5 543.8,497.9 544.5,494.5 545.3,487.0 546.0,481.6 546.5,480.4 546.8,478.6 547.5,481.4 548.3,481.2 549.0,483.2 549.8,486.5 550.5,489.0 551.3,487.5 552.1,491.2 552.4,489.4 552.8,484.0 553.6,481.5 554.3,477.5 555.1,471.3 555.8,456.6 556.4,454.2 556.6,462.3 557.3,493.4 558.1,522.1 558.3,527.4 558.8,524.1 559.6,514.8 560.3,507.0 561.1,499.1 561.8,491.3 562.6,488.6 563.3,479.1 564.1,473.0 564.2,470.9 564.9,471.6 565.6,474.2 566.4,477.0 567.1,486.6 567.7,487.2 567.9,484.7 568.6,481.3 569.4,478.8 570.1,483.3 570.9,482.7 571.6,482.2 572.4,481.6 573.1,473.3 573.9,469.9 574.6,469.1 574.8,470.9 575.4,472.4 576.1,480.4 576.9,489.9 577.6,498.2 578.3,501.2 578.4,503.0 579.2,492.6 579.9,488.1 580.7,481.2 581.4,473.4 582.2,470.0 582.9,461.9 583.7,454.2 584.4,442.6 585.2,437.7 585.9,431.7 586.6,423.4 586.7,421.6 587.4,424.3 588.2,423.5 588.9,426.9 589.5,430.7 589.7,441.5 590.4,467.1 591.2,493.5 591.8,513.4 592.0,510.8 592.7,505.9 593.5,498.0 594.2,492.1 595.0,488.3 595.7,477.8 596.0,477.7 596.5,477.9 597.2,469.0 598.0,469.3 598.7,468.5 599.5,463.3 600.2,453.3 600.7,451.9 601.0,443.9 601.7,445.0 602.5,435.2 603.2,426.9 604.0,416.2 604.7,413.8 605.4,404.9 605.5,406.0 606.3,409.6 607.0,407.8 607.8,414.8 608.5,411.9 608.6,416.2 609.3,414.5 610.0,413.7 610.3,409.4 610.8,409.4 611.5,411.7 612.3,417.4 613.0,414.9 613.8,420.7 614.5,416.7 614.8,418.9 615.3,419.7 616.0,423.7 616.8,430.1 617.5,438.4 618.3,444.1 619.1,449.4 619.6,451.9 619.8,450.1 620.6,459.6 621.3,457.2 622.1,467.6 622.8,471.4 623.6,474.4 624.3,472.4 625.1,477.8 625.5,480.4 625.8,479.9 626.6,473.5 627.3,475.3 628.1,472.2 628.8,468.8 629.0,468.2 629.6,466.7 630.3,467.3 631.1,469.4 631.8,473.5 632.6,475.7 633.4,478.7 634.1,474.6 634.9,477.7 634.9,475.8 635.6,472.5 636.4,474.7 637.1,471.2 637.9,465.3 638.6,463.5 639.4,465.6 639.7,461.4 640.1,460.3 640.9,451.5 641.6,452.5 642.4,450.5 642.4,446.9 643.1,462.9 643.9,471.7 644.6,482.8 644.7,487.2 645.4,490.1 646.2,492.8 646.9,494.0 647.7,494.9 648.4,495.0 649.2,498.3 649.4,496.7 649.9,497.4 650.7,496.6 651.4,490.2 652.2,488.7 652.9,491.5 652.9,489.4 653.7,488.4 654.4,494.3 655.2,495.3 655.9,492.9 656.5,496.7 656.7,493.1 657.4,489.7 658.2,488.1 659.0,486.9 659.7,480.6 660.5,480.5 661.2,477.2 662.0,472.1 662.3,468.2 662.7,470.0 663.5,467.6 664.2,460.9 665.0,458.4 665.7,458.1 666.5,455.3 667.2,454.6 668.0,456.2 668.3,451.9 668.7,453.1 669.5,455.9 670.2,454.7 671.0,454.0 671.7,459.9 672.5,461.5 673.0,463.7 673.3,461.8 674.0,466.2 674.8,470.6 675.5,468.7 676.3,468.1 677.0,470.3 677.7,475.4 677.8,472.5 678.5,470.2 679.3,470.2 680.0,469.7 680.8,470.4 681.5,471.1 682.3,467.6 682.4,468.2 683.0,473.0 683.8,472.8 684.5,470.6 685.3,471.6 686.0,475.4 686.1,474.9 686.8,488.2 687.6,497.8 688.3,507.6 689.1,517.0 689.4,522.4 689.8,521.3 690.6,518.0 691.3,514.2 692.1,514.2 692.8,510.5 693.6,506.9 694.2,506.1 694.3,505.2 695.1,497.3 695.8,486.0 696.6,483.8 697.3,473.8 698.1,468.8 698.8,455.7 698.9,456.4 699.6,457.8 700.4,468.3 701.1,479.8 701.9,484.3 702.4,489.4 702.6,490.0 703.4,491.8 704.1,495.8 704.9,498.4 705.6,500.3 706.4,504.7 707.1,508.7 707.9,509.6 708.4,513.4 708.6,514.4 709.4,514.1 710.1,515.9 710.9,515.7 711.6,518.7 712.4,517.1 713.2,519.6 713.9,522.0 714.7,522.6 715.4,523.1 715.4,522.4 716.2,523.6 716.9,522.1 717.7,521.2 718.4,519.6 719.2,519.9 719.9,519.9 720.7,519.7 721.3,517.9 721.4,516.6 722.2,508.5 722.9,503.3 723.7,499.2 724.4,489.8 725.2,485.2 725.9,480.9 726.0,477.7 726.7,479.5 727.5,475.1 728.2,472.6 729.0,472.8 729.7,473.8 730.5,472.8 730.7,473.1 731.2,474.4 732.0,467.2 732.7,469.5 733.5,466.5 734.2,462.8 735.0,460.6 735.7,462.3 736.5,463.5 736.7,461.4 737.2,457.5 738.0,455.9 738.7,444.6 739.5,442.3 739.7,440.2 740.3,438.3 741.0,441.5 741.4,440.2 741.8,443.0 742.5,446.7 743.3,447.7 744.0,451.5 744.4,449.6 744.8,451.5 745.5,438.6 746.3,434.1 747.0,428.1 747.8,420.8 748.4,411.7 748.5,412.0 749.3,406.2 750.0,398.3 750.3,397.2 750.8,397.2 751.5,402.9 752.3,401.0 753.1,408.1 753.1,403.3 753.8,434.7 753.8,432.9 754.6,429.3 755.3,427.9 755.7,429.8 756.1,426.6 756.8,431.5 757.6,426.6 758.3,426.6 758.6,428.4 759.1,430.2 759.8,430.2 760.6,426.1 761.3,426.1 762.0,427.9 762.1,429.3 762.8,428.1 763.3,421.2 763.6,423.0 764.3,423.0 765.1,417.0 765.8,418.5 766.0,417.1 766.6,416.8 766.8,411.7 767.4,423.0 768.1,441.1 768.9,465.9 769.1,470.9 769.6,477.7 770.4,494.0 771.1,508.8 771.5,517.9 771.9,514.6 772.6,509.1 773.4,504.6 774.1,499.7 774.9,498.7 775.1,496.7 775.6,496.1 776.4,497.1 777.1,496.4 777.9,498.4 778.6,498.9 778.6,497.1 779.4,499.7 780.2,503.2 780.9,505.4 781.7,507.5 782.1,506.1 782.4,507.4 783.2,510.6 783.9,510.7 784.7,513.2 785.4,513.5 785.6,513.4 786.2,513.9 786.9,514.1 787.7,513.2 788.4,516.7 789.2,515.6 789.2,514.7 789.9,511.3 790.7,506.9 791.4,502.0 792.2,496.5 792.9,494.7 793.7,491.0 793.9,489.4 794.5,487.9 795.2,494.6 796.0,494.3 796.7,495.5 797.5,500.9 798.2,500.3 798.6,501.2 799.0,501.4 799.7,502.1 800.5,507.1 801.2,507.1 802.0,510.9 802.7,513.8 803.3,515.6 803.5,513.2 804.2,513.0 805.0,507.6 805.7,504.0 806.5,502.1 807.3,496.2 808.0,495.0 808.1,494.4 808.8,491.7 809.5,487.9 810.3,482.6 811.0,482.8 811.8,478.9 812.5,475.4 812.8,473.1 813.3,471.8 814.0,467.1 814.8,469.2 815.5,463.5 816.3,464.5 817.0,462.6 817.5,461.4 817.8,462.5 818.5,457.8 819.3,449.6 820.0,448.2 820.8,445.1 821.1,446.9 821.6,449.7 822.3,454.8 823.1,459.0 823.8,460.0 824.6,463.7 824.6,462.3 825.3,467.5 826.1,480.3 826.8,483.2 826.9,484.9 827.6,478.1 828.3,476.0 829.1,476.9 829.8,472.3 830.5,465.9 830.6,470.0 831.3,470.0 832.1,464.3 832.8,465.6 833.6,465.9 834.0,468.2 834.4,462.3 835.1,455.6 835.9,453.1 836.6,448.9 837.4,444.1 837.6,444.7 838.1,446.0 838.9,451.8 839.6,456.3 840.4,465.9 841.0,468.2 841.1,467.2 841.9,467.7 842.6,464.7 843.4,469.7 844.1,470.0 844.6,465.9 844.9,475.1 845.6,479.0 846.4,486.8 847.2,498.2 847.6,506.1 847.9,509.1 848.7,515.1 849.4,522.5 850.0,529.2 850.2,528.8 850.9,529.9 851.7,530.1 851.7,529.6" fill="none" stroke="#e00000" stroke-width="1.5" stroke-linejoin="round"/>
<polyline points="457.2,519.0 457.2,517.9 458.0,515.9 458.7,515.3 459.5,512.2 459.6,511.6 460.2,511.5 461.0,516.3 461.7,516.5 461.9,517.9 462.5,517.6 463.2,516.4 464.0,516.7 464.2,517.9 464.7,519.6 465.5,519.4 466.2,521.7 466.4,522.4 467.0,523.1 467.7,522.6 468.5,520.1 469.2,518.7 469.5,517.9 470.0,517.3 470.8,515.8 471.5,512.9 472.3,510.5 472.5,508.4 473.0,513.2 473.8,524.9 474.1,528.3 474.5,524.6 475.3,516.9 476.0,512.7 476.8,503.1 477.5,496.3 477.9,494.8 478.3,489.3 479.0,488.5 479.8,484.7 480.5,480.2 480.9,476.8 481.3,478.9 482.0,492.3 482.4,499.4 482.8,506.5 483.5,520.1 484.0,528.3 484.3,525.8 485.1,518.7 485.8,510.9 486.6,498.8 487.3,492.4 488.1,479.9 488.8,475.5 489.6,468.6 490.1,459.6 490.3,463.0 491.1,475.9 491.8,485.4 492.4,491.7 492.6,492.7 493.3,506.6 493.9,519.3 494.1,515.4 494.8,507.5 495.6,497.6 496.3,488.1 497.1,482.0 497.9,472.8 498.6,470.4 499.3,459.6 499.4,462.2 500.1,494.0 500.8,520.6 500.9,519.4 501.6,516.4 502.4,514.8 503.1,513.4 503.9,506.9 504.6,506.7 505.4,502.8 506.1,500.3 506.9,497.8 506.9,496.2 507.6,492.6 508.4,487.5 509.1,489.0 509.9,485.8 509.9,484.8 510.6,504.5 511.4,521.5 511.5,523.8 512.2,512.2 512.9,500.2 513.7,487.7 513.8,482.6 514.4,484.4 515.2,479.6 515.9,480.7 516.0,481.3 516.7,482.2 517.4,476.3 518.2,473.1 518.9,475.4 519.7,478.0 519.9,475.0 520.4,479.5 521.2,479.9 521.4,478.1 521.9,481.3 522.7,482.2 523.4,482.2 523.5,480.4 524.2,482.1 525.0,478.1 525.7,474.1 526.0,475.9 526.5,474.1 527.2,478.6 528.0,481.2 528.7,482.4 529.5,485.1 529.8,484.9 530.2,480.3 531.0,473.3 531.7,462.5 532.5,445.3 533.2,441.6 533.5,435.2 534.0,432.0 534.7,423.7 535.5,414.5 536.2,413.7 536.3,411.2 537.0,420.6 537.7,428.7 538.5,435.0 539.3,441.7 539.4,442.4 540.0,464.0 540.8,499.3 541.3,527.4 541.5,523.7 542.3,517.6 543.0,510.3 543.8,498.6 544.1,494.4 544.5,487.0 545.3,480.0 546.0,470.6 546.5,465.9 546.8,472.3 547.5,475.4 548.3,475.8 548.9,482.6 549.0,478.8 549.8,476.3 550.5,473.1 551.3,476.7 552.1,477.7 552.4,473.1 552.8,474.6 553.6,465.8 554.3,457.5 555.1,448.5 555.8,445.1 555.9,446.9 556.6,472.9 557.3,505.6 557.8,527.4 558.1,523.6 558.8,513.9 559.6,506.9 560.3,494.0 561.1,487.0 561.8,472.8 562.6,463.8 563.0,461.4 563.3,464.3 564.1,470.4 564.9,473.3 565.6,473.2 566.4,475.1 566.5,477.7 567.1,478.2 567.9,477.2 568.6,470.8 569.4,466.2 570.1,464.6 570.1,463.7 570.9,462.2 571.6,454.5 572.4,454.9 573.1,448.9 573.9,442.3 574.6,432.2 575.4,429.1 576.0,428.4 576.1,429.4 576.9,455.5 577.6,481.0 578.3,498.9 578.4,500.1 579.2,489.9 579.9,484.1 580.7,481.3 581.4,478.9 581.9,470.9 582.2,466.5 582.9,448.0 583.7,434.0 584.3,419.8 584.4,421.6 585.2,417.7 585.9,414.4 586.7,418.0 587.0,416.2 587.4,413.6 588.2,399.3 588.9,385.6 589.5,374.6 589.7,371.5 590.4,368.2 590.5,364.7 591.2,362.4 591.3,364.2 592.0,465.2 592.3,527.4 592.7,520.1 593.5,507.7 594.2,489.8 595.0,479.0 595.7,461.5 596.0,459.1 596.5,456.1 597.2,449.9 598.0,437.3 598.2,437.0 598.7,438.2 599.5,433.4 600.2,434.3 600.7,435.2 601.0,433.9 601.7,423.9 602.5,411.3 602.5,409.4 603.2,403.4 604.0,394.8 604.7,396.8 605.5,391.5 605.7,388.6 606.3,395.3 607.0,392.7 607.8,402.6 607.8,400.8 608.5,402.6 609.3,402.6 610.0,400.5 610.3,397.2 610.8,385.9 611.5,371.1 612.1,366.0 612.3,361.4 613.0,356.5 613.8,358.3 613.8,356.5 614.5,359.9 615.3,364.2 615.6,362.4 616.0,361.4 616.8,365.1 617.3,371.0 617.5,381.0 618.3,393.9 619.0,409.4 619.1,412.8 619.8,432.0 620.2,439.7 620.6,451.5 620.7,454.2 621.3,460.8 622.1,466.5 622.8,467.8 623.6,469.9 624.3,470.9 624.3,467.5 625.1,471.8 625.8,464.2 626.6,468.0 627.3,466.7 628.1,460.7 628.8,459.6 629.0,461.4 629.6,461.4 630.3,467.0 631.1,464.9 631.8,465.8 632.6,461.3 633.4,467.4 633.7,465.9 634.1,466.3 634.9,458.0 635.6,462.0 636.4,457.3 637.1,449.7 637.9,445.8 638.4,446.9 638.6,448.7 639.4,448.7 640.1,447.1 640.9,436.1 641.6,437.5 641.8,435.2 642.4,443.5 643.1,459.1 643.1,454.6 643.9,469.4 644.6,481.0 644.7,480.4 645.4,479.3 646.2,482.7 646.9,487.8 647.1,487.2 647.7,486.2 648.4,488.7 649.2,490.0 649.9,491.2 650.7,488.3 651.4,486.2 651.8,489.4 652.2,487.0 652.9,484.1 653.7,489.0 654.4,488.3 655.2,485.5 655.9,480.8 656.5,482.6 656.7,477.8 657.4,480.3 658.2,481.1 659.0,478.9 659.7,476.6 660.5,471.3 661.2,474.8 661.2,473.1 662.0,469.4 662.7,467.3 663.5,464.7 664.2,463.3 665.0,463.4 665.7,465.1 665.9,463.7 666.5,465.2 667.2,464.4 668.0,459.5 668.7,464.5 669.5,464.3 670.2,458.2 670.6,459.1 671.0,462.2 671.7,467.0 672.5,469.9 673.3,467.1 674.0,469.7 674.2,468.2 674.8,466.4 675.5,466.4 676.3,466.4 677.0,470.8 677.7,470.9 677.8,472.7 678.5,472.7 679.3,467.2 680.0,461.6 680.8,460.7 681.3,459.1 681.5,460.9 682.3,460.8 683.0,458.4 683.8,457.3 684.5,457.3 684.7,459.1 685.3,463.1 686.1,475.7 686.8,491.0 687.2,494.4 687.6,495.4 688.3,502.7 689.1,507.0 689.8,512.7 690.6,516.5 690.7,517.9 691.3,515.6 692.1,512.3 692.8,508.8 693.6,505.7 694.3,498.1 695.1,494.9 695.4,494.4 695.8,488.8 696.6,478.6 697.3,462.7 698.1,455.0 698.8,448.2 698.9,444.7 699.6,450.3 700.4,459.6 701.1,466.1 701.9,482.1 702.4,487.2 702.6,488.7 703.4,489.5 704.1,492.1 704.9,495.0 705.6,503.2 706.4,506.5 707.1,510.2 707.1,508.4 707.9,511.4 708.6,508.7 709.4,510.3 710.1,510.0 710.9,512.9 711.6,512.4 712.4,514.6 713.1,515.6 713.2,516.6 713.9,515.6 714.7,515.3 715.4,518.8 716.2,518.5 716.9,518.9 717.7,520.9 717.8,520.2 718.4,520.0 719.2,519.9 719.9,519.0 720.7,517.9 721.3,515.6 721.4,515.0 722.2,508.6 722.9,505.0 723.7,501.4 724.4,494.6 725.2,486.2 725.9,483.4 726.0,480.4 726.7,482.1 727.5,482.2 728.2,477.3 729.0,477.3 729.6,477.7 729.7,479.5 730.5,479.5 731.2,476.8 732.0,473.3 732.7,470.5 733.1,470.9 733.5,472.7 734.2,470.6 735.0,462.7 735.7,460.9 736.5,459.6 736.7,456.4 737.2,453.4 738.0,439.4 738.7,436.4 739.5,427.6 739.7,426.1 740.3,424.4 741.0,420.3 741.4,417.1 741.8,413.2 742.5,413.0 742.8,414.8 743.3,416.7 744.0,423.6 744.8,422.9 745.5,430.2 745.6,428.4 746.3,429.1 747.0,415.5 747.8,412.2 748.4,407.2 748.5,405.3 749.3,407.5 750.0,405.3 750.3,408.1 750.8,401.1 751.5,395.1 752.1,384.6 752.3,386.4 753.1,371.9 753.3,366.5 753.8,378.4 754.6,395.9 754.8,408.1 755.3,411.8 756.1,410.1 756.8,413.2 757.6,413.9 758.3,417.1 758.4,415.3 759.1,417.1 759.8,415.7 760.6,412.1 761.3,417.1 762.1,415.2 762.8,412.1 763.3,413.9 763.6,407.4 764.3,411.7 765.1,411.8 765.8,401.8 766.5,402.6 766.6,400.8 767.4,405.4 768.1,413.5 768.3,411.7 768.9,440.3 769.1,459.1 769.6,476.9 770.4,502.9 771.0,529.6 771.1,527.9 771.9,517.7 772.6,510.7 773.4,499.0 773.8,494.4 774.1,495.4 774.9,494.0 775.6,489.9 776.4,488.0 777.1,491.1 777.4,489.4 777.9,490.6 778.6,487.7 779.4,484.6 780.2,483.3 780.9,483.7 780.9,480.4 781.7,487.1 782.4,487.4 783.2,489.2 783.9,498.0 784.5,498.9 784.7,499.7 785.4,500.7 786.2,506.5 786.9,505.9 787.7,510.9 788.1,510.7 788.4,509.2 789.2,506.0 789.9,502.5 790.7,501.1 791.4,498.1 792.2,494.1 792.8,492.1 792.9,492.6 793.7,491.7 794.5,493.0 795.2,493.7 796.0,496.2 796.7,494.2 797.5,494.5 797.5,494.4 798.2,498.1 799.0,497.5 799.7,498.8 800.5,502.5 801.2,506.5 802.0,507.6 802.7,511.1 803.3,510.7 803.5,512.2 804.2,508.1 805.0,506.6 805.7,502.3 806.5,498.6 807.3,498.4 808.0,492.5 808.1,492.1 808.8,493.0 809.5,487.0 810.3,483.2 811.0,482.4 811.8,484.1 812.5,479.5 812.8,477.7 813.3,476.9 814.0,468.6 814.8,471.0 815.5,462.6 816.3,456.1 817.0,454.6 817.5,456.4 817.8,450.9 818.5,454.1 819.3,445.1 820.0,445.2 820.8,438.5 821.6,436.1 822.2,437.9 822.3,439.3 823.1,433.6 823.8,431.6 824.2,433.4 824.6,443.3 825.3,457.1 825.8,463.7 826.1,461.0 826.8,463.7 827.6,455.7 828.3,458.0 829.1,452.4 829.3,454.2 829.8,455.5 830.6,451.7 831.3,445.0 832.1,448.8 832.8,448.1 833.6,444.2 834.0,442.4 834.4,443.5 835.1,444.2 835.9,442.5 836.6,440.6 837.4,431.0 838.1,429.4 838.7,430.7 838.9,428.9 839.6,440.0 840.4,441.9 841.1,453.3 841.9,456.8 842.3,459.1 842.6,460.0 843.4,466.2 844.1,466.0 844.9,471.8 845.6,476.1 845.7,477.7 846.4,476.3 847.2,484.1 847.9,481.2 848.7,484.8 849.4,489.2 850.2,489.3 850.4,492.1 850.9,493.5 851.7,490.4 852.4,493.9 852.4,492.6" fill="none" stroke="#00c000" stroke-width="1.5" stroke-linejoin="round"/>
<polyline points="457.2,529.6 457.2,529.2 458.0,530.1 458.7,529.1 459.5,530.1 460.2,529.4 461.0,529.6 461.7,530.1 462.5,529.5 462.8,529.2 463.2,530.1 464.0,529.6 464.7,530.1 465.5,530.1 466.2,529.3 467.0,528.0 467.7,529.3 468.5,529.3 469.2,528.3 469.4,528.3 470.0,527.1 470.8,527.6 471.5,528.2 472.3,526.8 473.0,528.7 473.8,527.2 474.1,527.8 474.5,524.6 475.3,518.5 476.0,512.1 476.8,504.4 477.5,494.0 477.9,491.7 478.3,491.0 479.0,484.2 479.8,478.1 480.2,476.8 480.5,471.9 481.3,459.8 482.0,453.1 482.1,447.4 482.8,470.1 483.3,476.8 483.5,488.2 484.3,505.8 484.8,519.3 485.1,517.2 485.8,511.8 486.3,507.0 486.6,504.0 487.3,496.7 488.1,490.3 488.5,484.0 488.8,478.3 489.6,467.4 490.3,461.3 490.4,458.2 491.1,460.0 491.8,462.1 492.4,464.1 492.6,475.6 493.1,522.4 493.3,519.7 494.1,515.1 494.8,506.4 495.4,503.9 495.6,504.1 496.3,499.3 497.1,492.7 497.9,491.6 498.5,485.8 498.6,488.8 499.4,508.8 500.0,522.4 500.1,521.8 500.9,516.2 501.6,512.0 502.4,506.0 503.1,503.7 503.8,499.4 503.9,498.0 504.6,495.6 505.4,493.2 506.1,491.5 506.9,489.0 506.9,487.2 507.6,477.7 508.4,473.8 509.1,466.1 509.6,463.7 509.9,478.4 510.6,505.5 511.1,525.1 511.4,519.6 512.2,504.5 512.9,491.1 513.7,481.7 513.8,479.5 514.4,477.6 515.2,471.9 515.9,473.5 516.0,469.1 516.7,468.9 517.4,469.0 518.2,468.2 518.4,462.8 518.9,464.6 519.7,457.1 519.9,457.3 520.4,464.0 521.2,467.7 521.4,465.9 521.9,470.5 522.7,469.2 523.4,477.7 523.5,475.9 524.2,478.1 525.0,477.9 525.7,475.9 526.0,479.5 526.5,472.6 527.2,467.3 527.5,469.1 528.0,477.6 528.7,490.4 529.5,503.2 529.8,507.0 530.2,495.7 531.0,478.5 531.7,469.6 532.0,462.3 532.5,462.1 533.2,455.8 533.5,449.6 534.0,451.4 534.7,445.6 535.5,440.6 536.2,440.1 536.3,437.4 537.0,439.7 537.1,437.9 537.7,442.8 538.5,445.0 539.0,444.7 539.3,459.6 540.0,497.0 540.6,529.6 540.8,526.7 541.5,518.7 542.3,510.1 543.0,501.1 543.8,496.4 543.8,493.9 544.5,483.5 545.3,474.2 546.0,464.4 546.5,463.7 546.8,461.8 547.5,471.8 548.3,478.8 548.9,482.6 549.0,484.4 549.8,478.8 550.5,479.5 551.3,477.7 552.1,473.9 552.8,471.2 553.6,466.6 553.6,463.7 554.3,462.8 555.1,457.7 555.8,450.3 556.4,440.2 556.6,454.5 557.3,486.1 558.1,520.7 558.3,527.4 558.8,516.8 559.6,503.6 560.3,493.4 560.7,484.9 561.1,484.4 561.8,477.8 562.6,471.5 563.3,467.7 564.1,455.0 564.2,456.4 564.9,457.1 565.6,468.6 566.4,476.7 567.1,487.1 567.7,489.4 567.9,491.2 568.6,488.6 569.4,486.3 570.1,479.6 570.9,481.1 571.2,477.7 571.6,479.5 572.4,473.1 573.1,473.1 573.9,475.5 574.6,471.7 574.8,470.9 575.4,483.9 576.1,493.0 576.9,502.2 577.6,514.8 578.3,527.4 578.4,524.9 579.2,513.9 579.9,501.8 580.7,491.1 581.4,475.9 581.4,474.5 582.2,464.2 582.9,451.1 583.7,444.1 584.2,435.2 584.4,438.5 585.2,434.8 585.9,433.4 586.6,439.7 586.7,433.7 587.4,427.2 588.2,420.3 588.9,414.1 589.5,412.6 589.7,413.9 590.2,411.7 590.4,428.3 591.2,472.7 591.8,503.9 592.0,505.2 592.7,500.4 593.5,493.5 594.2,487.5 595.0,478.3 595.7,469.1 596.0,470.9 596.5,467.6 597.2,460.1 598.0,454.6 598.7,450.6 599.5,452.6 600.2,451.9 600.7,446.9 601.0,448.7 601.7,447.4 602.5,444.8 603.2,438.0 604.0,431.4 604.7,428.1 605.5,428.9 606.0,428.4 606.3,426.3 607.0,424.3 607.8,430.2 608.5,426.2 609.3,424.3 609.6,426.1 610.0,420.9 610.8,419.0 611.5,419.5 612.3,421.1 612.5,417.6 612.9,412.6 613.0,410.8 613.8,415.0 614.5,412.4 615.3,410.8 616.0,416.8 616.4,418.0 616.8,424.0 617.2,428.4 617.5,426.6 618.3,430.7 619.1,440.4 619.8,446.5 620.6,448.7 620.7,446.9 621.3,441.8 622.1,437.1 622.8,439.9 623.6,431.5 624.3,430.7 624.3,428.9 625.1,418.9 625.8,414.2 625.9,412.6 626.6,413.4 626.7,413.9 627.3,422.9 628.1,431.4 628.8,428.7 629.6,435.4 630.2,442.4 630.3,440.8 631.1,434.8 631.8,436.3 632.6,431.1 633.2,432.9 633.4,428.0 634.1,432.2 634.9,431.7 635.6,429.8 636.4,428.5 636.6,424.3 637.1,428.0 637.9,436.0 638.6,440.7 639.4,448.7 639.7,446.9 640.1,437.9 640.9,431.6 641.6,421.7 642.4,410.6 642.7,407.6 643.1,419.2 643.9,448.3 644.3,461.4 644.6,456.1 645.4,457.2 646.2,455.9 646.9,454.2 647.1,454.2 647.7,456.0 648.4,453.4 649.2,453.6 649.9,454.4 650.6,446.9 650.7,445.7 651.4,448.7 652.2,446.1 652.9,442.1 653.7,441.9 654.4,443.5 655.2,441.4 655.3,441.1 655.9,446.3 656.7,450.4 657.4,463.0 658.2,466.8 658.4,468.2 659.0,463.9 659.7,455.0 660.5,441.0 661.2,432.9 662.0,423.5 662.7,412.3 662.8,413.9 663.5,412.1 664.2,414.3 664.3,415.3 665.0,418.0 665.7,423.6 666.5,428.5 667.1,432.9 667.2,430.0 668.0,424.3 668.0,424.2 668.7,424.9 669.5,426.2 669.5,426.1 670.2,424.3 671.0,427.9 671.7,429.0 672.5,430.5 673.0,437.9 673.3,434.0 674.0,421.2 674.0,420.8 674.8,419.4 675.3,423.4 675.5,421.6 676.3,435.0 677.0,444.8 677.7,446.9 677.8,447.7 678.5,441.6 679.2,428.9 679.3,432.5 680.0,432.5 680.1,430.7 680.8,434.6 681.5,436.4 682.3,439.0 683.0,450.5 683.6,451.9 683.8,448.6 684.5,441.1 685.2,437.0 685.3,440.3 686.0,440.2 686.1,438.9 686.8,449.9 687.6,470.1 688.3,482.6 688.3,479.4 689.1,487.0 689.8,491.6 690.6,493.1 690.7,496.7 691.3,491.5 692.1,493.3 692.8,490.4 693.6,487.2 694.2,484.9 694.3,484.8 695.1,475.9 695.8,464.9 696.6,449.9 697.3,444.9 697.7,435.2 698.1,434.5 698.8,431.6 699.6,433.0 700.4,428.2 701.1,421.8 701.6,420.3 701.9,420.4 702.4,421.2 702.6,427.2 703.4,426.1 704.1,432.5 704.8,442.4 704.9,440.6 705.6,452.4 706.4,460.2 707.1,469.5 707.9,470.0 708.4,475.4 708.6,477.9 709.4,482.0 710.1,482.4 710.9,480.3 711.6,482.1 712.4,488.3 713.1,489.4 713.2,492.4 713.9,490.0 714.7,493.3 715.4,495.1 716.2,500.9 716.9,504.3 717.7,503.5 717.8,503.9 718.4,506.0 719.2,509.8 719.9,508.2 720.7,510.6 721.3,513.4 721.4,510.6 722.2,504.7 722.9,492.2 723.7,487.3 724.4,473.3 724.8,470.9 725.2,468.3 725.9,465.4 726.7,459.1 727.5,450.2 728.2,450.9 729.0,449.2 729.6,441.1 729.7,442.3 730.5,446.6 731.2,450.8 732.0,453.2 732.7,453.7 733.1,451.9 733.5,453.7 734.2,453.5 735.0,452.0 735.7,446.2 736.5,448.4 736.7,446.5 737.2,446.5 738.0,448.3 738.7,447.4 739.5,448.3 739.5,444.2 740.3,437.5 741.0,428.6 741.4,417.1 741.8,415.1 742.5,411.8 743.3,412.3 743.3,409.4 744.0,418.4 744.8,421.2 744.9,426.1 745.5,427.9 746.3,422.1 747.0,423.6 747.2,423.4 747.8,409.1 748.5,390.0 748.5,388.2 749.3,386.2 750.0,382.3 750.3,380.9 750.8,368.8 751.5,354.3 751.5,352.5 752.3,347.0 752.7,343.4 753.1,349.5 753.5,364.7 753.8,370.9 754.6,396.5 754.8,408.1 755.3,440.5 755.7,465.9 756.1,456.7 756.8,438.3 757.4,417.1 757.6,418.9 758.3,413.4 759.0,400.8 759.1,401.0 759.8,410.1 760.6,418.2 761.1,418.9 761.3,420.7 762.1,413.4 762.8,407.9 763.6,406.3 763.9,408.1 764.3,405.0 765.1,399.8 765.8,392.9 766.0,388.2 766.6,385.5 767.4,382.7 767.8,375.5 768.1,382.9 768.9,399.3 769.6,411.7 769.6,407.9 770.4,421.0 771.0,440.2 771.1,435.8 771.9,423.1 772.6,400.4 772.7,402.2 773.4,393.9 773.8,388.2 774.1,396.7 774.9,414.2 775.5,420.7 775.6,426.5 776.4,448.6 776.7,456.4 777.1,456.0 777.9,457.7 778.6,454.4 779.4,457.7 779.8,451.9 780.2,452.0 780.9,445.6 781.7,435.2 781.8,430.7 782.4,444.5 783.2,456.8 783.9,465.6 784.7,476.4 785.4,484.6 785.6,487.2 786.2,491.6 786.9,496.3 787.7,502.6 788.0,506.1 788.4,499.9 789.2,491.1 789.9,486.5 790.7,480.6 791.4,469.1 791.5,470.9 792.2,472.4 792.9,468.3 793.7,467.4 794.5,472.3 795.0,468.2 795.2,466.6 796.0,466.4 796.7,469.2 797.5,470.4 798.2,471.2 798.6,475.4 799.0,477.9 799.7,477.4 800.5,478.1 801.2,476.4 802.0,476.9 802.2,480.4 802.7,478.6 803.5,481.2 804.2,480.9 805.0,483.4 805.7,487.2 805.7,485.1 806.5,482.5 807.3,479.5 808.0,473.8 808.8,465.9 809.2,459.1 809.5,463.2 810.3,457.9 811.0,459.1 811.8,459.1 812.5,459.5 812.8,461.4 813.3,455.5 814.0,451.6 814.8,451.3 815.5,439.3 816.3,435.2 816.3,433.4 817.0,424.1 817.8,414.1 817.9,413.5 818.5,414.2 819.3,422.5 819.8,420.7 820.0,418.1 820.8,417.6 821.6,416.6 821.6,411.7 822.3,410.3 823.1,400.2 823.8,398.8 824.2,393.6 824.6,396.0 825.3,400.3 826.1,413.5 826.1,412.0 826.8,418.9 827.6,423.2 828.3,425.7 828.7,429.8 829.1,423.6 829.8,418.7 830.6,412.7 831.3,412.4 831.4,408.1 832.1,408.0 832.8,401.9 833.2,395.4 833.6,392.4 834.4,391.7 835.1,386.5 835.9,388.0 836.0,382.7 836.6,386.4 837.4,386.4 837.7,384.6 838.1,387.2 838.9,392.0 839.2,397.2 839.6,399.2 840.4,411.8 841.1,419.5 841.4,422.5 841.9,423.6 842.6,424.7 843.4,427.9 844.0,426.1 844.1,424.3 844.9,430.9 845.6,426.9 845.8,431.6 846.4,429.8 847.2,442.4 847.9,444.9 848.1,444.7 848.7,443.6 849.4,443.2 850.2,449.9 850.4,451.9 850.9,453.1 851.7,453.4 852.4,448.7 852.4,446.9" fill="none" stroke="#0000e0" stroke-width="1.5" stroke-linejoin="round"/>
<rect x="441.5" y="335.5" width="426" height="203" fill="none" stroke="#3c3c3c" stroke-width="1"/>
<line x1="437.8" y1="530.1" x2="441.5" y2="530.1" stroke="#3c3c3c" stroke-width="1"/>
<text x="430.5" y="534.0" font-family="'Liberation Sans', sans-serif" font-size="10.6" fill="#333" text-anchor="end">0</text>
<line x1="437.8" y1="484.90000000000003" x2="441.5" y2="484.90000000000003" stroke="#3c3c3c" stroke-width="1"/>
<text x="430.5" y="488.8" font-family="'Liberation Sans', sans-serif" font-size="10.6" fill="#333" text-anchor="end">100</text>
<line x1="437.8" y1="439.70000000000005" x2="441.5" y2="439.70000000000005" stroke="#3c3c3c" stroke-width="1"/>
<text x="430.5" y="443.6" font-family="'Liberation Sans', sans-serif" font-size="10.6" fill="#333" text-anchor="end">200</text>
<line x1="437.8" y1="394.5" x2="441.5" y2="394.5" stroke="#3c3c3c" stroke-width="1"/>
<text x="430.5" y="398.4" font-family="'Liberation Sans', sans-serif" font-size="10.6" fill="#333" text-anchor="end">300</text>
<line x1="437.8" y1="349.3" x2="441.5" y2="349.3" stroke="#3c3c3c" stroke-width="1"/>
<text x="430.5" y="353.2" font-family="'Liberation Sans', sans-serif" font-size="10.6" fill="#333" text-anchor="end">400</text>
<line x1="457.2" y1="538.5" x2="457.2" y2="542" stroke="#3c3c3c" stroke-width="1"/>
<text x="457.2" y="555.6" font-family="'Liberation Sans', sans-serif" font-size="10.6" fill="#333" text-anchor="middle">0</text>
<line x1="551.3" y1="538.5" x2="551.3" y2="542" stroke="#3c3c3c" stroke-width="1"/>
<text x="551.3" y="555.6" font-family="'Liberation Sans', sans-serif" font-size="10.6" fill="#333" text-anchor="middle" textLength="22.0" lengthAdjust="spacingAndGlyphs">1000</text>
<line x1="645.4" y1="538.5" x2="645.4" y2="542" stroke="#3c3c3c" stroke-width="1"/>
<text x="645.4" y="555.6" font-family="'Liberation Sans', sans-serif" font-size="10.6" fill="#333" text-anchor="middle" textLength="22.0" lengthAdjust="spacingAndGlyphs">2000</text>
<line x1="739.5" y1="538.5" x2="739.5" y2="542" stroke="#3c3c3c" stroke-width="1"/>
<text x="739.5" y="555.6" font-family="'Liberation Sans', sans-serif" font-size="10.6" fill="#333" text-anchor="middle" textLength="22.0" lengthAdjust="spacingAndGlyphs">3000</text>
<line x1="833.6" y1="538.5" x2="833.6" y2="542" stroke="#3c3c3c" stroke-width="1"/>
<text x="833.6" y="555.6" font-family="'Liberation Sans', sans-serif" font-size="10.6" fill="#333" text-anchor="middle" textLength="22.0" lengthAdjust="spacingAndGlyphs">4000</text>
<text x="652.2" y="569.6" font-family="'Liberation Sans', sans-serif" font-size="10.6" fill="#333" text-anchor="middle" textLength="79.6" lengthAdjust="spacingAndGlyphs">base pair position</text>
<text x="397.8" y="435.8" font-family="'Liberation Sans', sans-serif" font-size="11.0" fill="#333" text-anchor="middle" textLength="99.5" lengthAdjust="spacingAndGlyphs" transform="rotate(-90 397.8 435.8)">coverage/nucleotide</text>
<rect x="441.5" y="335.5" width="95.9" height="38.6" fill="#fff" stroke="#3c3c3c" stroke-width="1"/>
<line x1="452.9" y1="343.6" x2="474.7" y2="343.6" stroke="#333" stroke-width="1.2"/>
<line x1="452.9" y1="351.1" x2="474.7" y2="351.1" stroke="#e05050" stroke-width="1.2"/>
<line x1="452.9" y1="359.2" x2="474.7" y2="359.2" stroke="#40c040" stroke-width="1.2"/>
<line x1="452.9" y1="366.9" x2="474.7" y2="366.9" stroke="#5050e0" stroke-width="1.2"/>
<text x="478.5" y="346.8" font-family="'Liberation Sans', sans-serif" font-size="7.1" fill="#333" textLength="25.2" lengthAdjust="spacingAndGlyphs">del/male</text>
<text x="478.5" y="354.6" font-family="'Liberation Sans', sans-serif" font-size="7.1" fill="#333" textLength="23.3" lengthAdjust="spacingAndGlyphs">wt/male</text>
<text x="478.5" y="362.3" font-family="'Liberation Sans', sans-serif" font-size="7.1" fill="#333" textLength="23.3" lengthAdjust="spacingAndGlyphs">wt/male</text>
<text x="478.5" y="370.0" font-family="'Liberation Sans', sans-serif" font-size="7.1" fill="#333" textLength="23.3" lengthAdjust="spacingAndGlyphs">wt/male</text>
<rect x="521.8" y="386.1" width="3.2" height="152.1" fill="#000"/>
<line x1="459" y1="439.5" x2="512" y2="439.5" stroke="#222" stroke-width="1"/>
<polygon points="457,439.5 462.5,437.3 462.5,441.7" fill="#111"/>
<polygon points="514,439.5 508.5,437.3 508.5,441.7" fill="#111"/>
<line x1="544" y1="381.5" x2="815" y2="381.5" stroke="#333" stroke-width="1"/>
<polygon points="541.8,381.5 546.6,379.4 546.6,383.6" fill="#111"/>
<polygon points="817.2,381.5 812.4,379.4 812.4,383.6" fill="#111"/>
<text x="457.8" y="433.4" font-family="'Liberation Serif', serif" font-size="9.4" fill="#000" font-weight="bold" textLength="36.2" lengthAdjust="spacingAndGlyphs">Exons 1-7</text>
<text x="645.4" y="376.0" font-family="'Liberation Serif', serif" font-size="9.4" fill="#000" font-weight="bold" textLength="40.3" lengthAdjust="spacingAndGlyphs">Exons 8-15</text>
</svg>
</body></html>
